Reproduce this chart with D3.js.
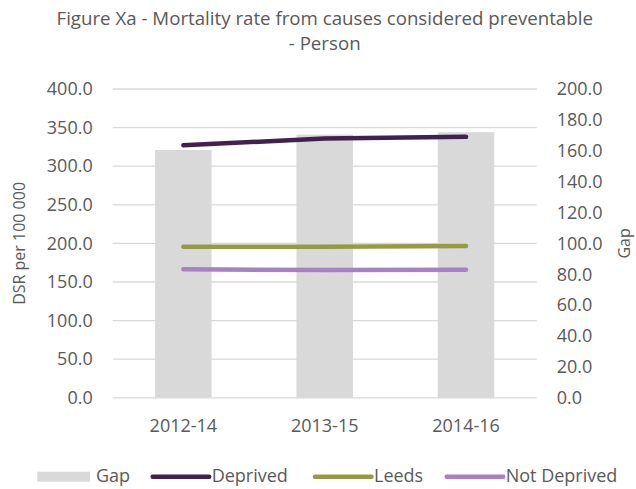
<!DOCTYPE html>
<html>
<head>
<meta charset="utf-8">
<script src="https://cdn.jsdelivr.net/npm/d3@7"></script>
<style>
  body { margin: 0; background: #fff; }
  svg text { font-family: "Open Sans", sans-serif; fill: #595959; }
</style>
</head>
<body>
<div id="chart"></div>
<script>
// chart data
var periods = ["2012-14", "2013-15", "2014-16"];
var gap = [160.5, 170.5, 172.0];
var deprived = [327.0, 336.0, 338.0];
var leeds = [195.8, 195.5, 196.5];
var notDeprived = [166.5, 165.5, 166.0];
var leftTicks = [0, 50, 100, 150, 200, 250, 300, 350, 400];
var rightTicks = [0, 20, 40, 60, 80, 100, 120, 140, 160, 180, 200];

var width = 636, height = 489;
var plot = {left: 112.7, right: 536.7, top: 89, bottom: 397.8};

var svg = d3.select("#chart").append("svg")
    .attr("width", width)
    .attr("height", height);

var x = d3.scaleBand()
    .domain(periods)
    .range([plot.left, plot.right])
    .paddingInner(0.6)
    .paddingOuter(0.3);

var yLeft = d3.scaleLinear().domain([0, 400]).range([plot.bottom, plot.top]);
var yRight = d3.scaleLinear().domain([0, 200]).range([plot.bottom, plot.top]);

// title
var title = svg.append("text")
    .attr("text-anchor", "middle")
    .style("font-size", "18.7px");
title.append("tspan").attr("x", 324.7).attr("y", 24.5)
    .text("Figure Xa - Mortality rate from causes considered preventable");
title.append("tspan").attr("x", 324.7).attr("y", 50)
    .text("- Person");

// gridlines
svg.append("g").selectAll("line")
    .data(leftTicks)
    .enter().append("line")
    .attr("x1", plot.left)
    .attr("x2", plot.right)
    .attr("y1", function (d) { return yLeft(d); })
    .attr("y2", function (d) { return yLeft(d); })
    .attr("stroke", "#d9d9d9")
    .attr("stroke-width", 1.3);

// gap bars (secondary axis)
svg.append("g").selectAll("rect")
    .data(gap)
    .enter().append("rect")
    .attr("x", function (d, i) { return x(periods[i]); })
    .attr("y", function (d) { return yRight(d); })
    .attr("width", x.bandwidth())
    .attr("height", function (d) { return plot.bottom - yRight(d); })
    .attr("fill", "#d9d9d9");

// axes
var leftAxis = svg.append("g")
    .attr("transform", "translate(" + plot.left + ",0)")
    .call(d3.axisLeft(yLeft).tickValues(leftTicks).tickFormat(d3.format(".1f")).tickSize(0).tickPadding(20));
var rightAxis = svg.append("g")
    .attr("transform", "translate(" + plot.right + ",0)")
    .call(d3.axisRight(yRight).tickValues(rightTicks).tickFormat(d3.format(".1f")).tickSize(0).tickPadding(20));
var bottomAxis = svg.append("g")
    .attr("transform", "translate(0," + plot.bottom + ")")
    .call(d3.axisBottom(x).tickSize(0).tickPadding(21));

[leftAxis, rightAxis, bottomAxis].forEach(function (a) {
    a.select(".domain").remove();
    a.selectAll("text")
        .style("font-size", "18px")
        .style("font-family", "'Open Sans', sans-serif")
        .attr("fill", "#595959");
});

// series lines
var series = [
    {name: "Deprived", values: deprived, color: "#40214f"},
    {name: "Leeds", values: leeds, color: "#959a44"},
    {name: "Not Deprived", values: notDeprived, color: "#ab7fc6"}
];

var line = d3.line()
    .x(function (d, i) { return x(periods[i]) + x.bandwidth() / 2; })
    .y(function (d) { return yLeft(d); });

svg.append("g").selectAll("path")
    .data(series)
    .enter().append("path")
    .attr("d", function (d) { return line(d.values); })
    .attr("fill", "none")
    .attr("stroke", function (d) { return d.color; })
    .attr("stroke-width", 4.5)
    .attr("stroke-linecap", "round")
    .attr("stroke-linejoin", "round");

// axis titles
svg.append("text")
    .attr("transform", "translate(25," + ((plot.top + plot.bottom) / 2) + ") rotate(-90)")
    .attr("text-anchor", "middle")
    .style("font-size", "16px")
    .text("DSR per 100 000");

svg.append("text")
    .attr("transform", "translate(630," + ((plot.top + plot.bottom) / 2) + ") rotate(-90)")
    .attr("text-anchor", "middle")
    .style("font-size", "16px")
    .text("Gap");

// legend
var legend = svg.append("g");
legend.append("rect")
    .attr("x", 37.3).attr("y", 471.7)
    .attr("width", 52.7).attr("height", 10)
    .attr("fill", "#d9d9d9");
legend.append("text")
    .attr("x", 96).attr("y", 482)
    .style("font-size", "18px")
    .text("Gap");

var legendX = [152.7, 315, 446.7];
series.forEach(function (s, i) {
    legend.append("line")
        .attr("x1", legendX[i]).attr("x2", legendX[i] + 56.5)
        .attr("y1", 476.7).attr("y2", 476.7)
        .attr("stroke", s.color)
        .attr("stroke-width", 4.5)
        .attr("stroke-linecap", "round");
    legend.append("text")
        .attr("x", legendX[i] + 59).attr("y", 482)
        .style("font-size", "18px")
        .text(s.name);
});
</script>
</body>
</html>
